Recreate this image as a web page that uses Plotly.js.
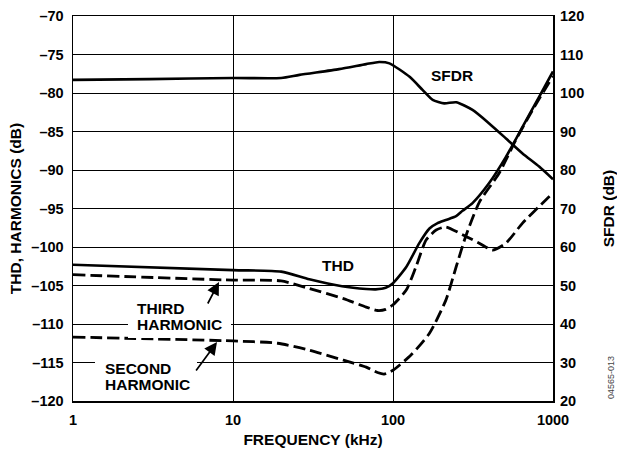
<!DOCTYPE html>
<html>
<head>
<meta charset="utf-8">
<script src="https://cdn.plot.ly/plotly-3.0.1.min.js"></script>
<style>html,body{margin:0;padding:0;background:#fff;}#chart{width:617px;height:453px;}</style>
</head>
<body>
<div id="chart"></div>
<script>
// Frequency axis (kHz)
const freqTicks = [1, 10, 100, 1000];
const freqTickText = ['1', '10', '100', '1000'];
const leftTicks = [-120, -115, -110, -105, -100, -95, -90, -85, -80, -75, -70];
const leftTickText = ['–120', '–115', '–110', '–105', '–100', '–95', '–90', '–85', '–80', '–75', '–70'];
const rightTicks = [20, 30, 40, 50, 60, 70, 80, 90, 100, 110, 120];
const rightTickText = ['20', '30', '40', '50', '60', '70', '80', '90', '100', '110', '120'];

// SFDR (dB, right axis)
const sfdrFreq = [1, 3, 10, 20, 26, 46, 68, 82, 95, 127, 153, 177, 209, 248, 314, 399, 508, 645, 819, 1000];
const sfdrVal  = [103.4, 103.6, 103.9, 103.9, 104.7, 106.2, 107.5, 108.05, 107.7, 104.2, 100.8, 98.2, 97.3, 97.6, 95.6, 92.1, 88.2, 84.3, 80.9, 77.6];

// THD (dB, left axis)
const thdFreq = [1, 10, 20, 30, 48, 68, 78, 90, 100, 121, 146, 169, 190, 214, 248, 272, 314, 399, 508, 645, 819, 1000];
const thdVal  = [-102.3, -103.0, -103.2, -104.2, -105.1, -105.45, -105.5, -105.3, -104.7, -102.6, -99.5, -97.6, -96.9, -96.5, -96.0, -95.3, -94.3, -91.7, -88.3, -84.4, -80.5, -77.2];

// Third harmonic (dB, left axis)
const h3Freq = [1, 10, 20, 30, 49, 68, 80, 90, 100, 121, 139, 161, 186, 214, 272, 346, 419, 508, 645, 901, 1000];
const h3Val  = [-103.6, -104.3, -104.4, -105.4, -106.7, -107.8, -108.25, -108.1, -107.5, -105.6, -102.6, -99.1, -97.8, -97.4, -98.4, -99.5, -100.4, -99.5, -96.9, -93.9, -93.0];

// Second harmonic (dB, left axis)
const h2Freq = [1, 10, 19, 30, 49, 68, 80, 88, 100, 130, 169, 214, 248, 286, 346, 461, 586, 745, 1000];
const h2Val  = [-111.7, -112.2, -112.5, -113.4, -114.7, -115.6, -116.3, -116.5, -116.0, -114.0, -111.2, -106.9, -102.6, -98.5, -94.2, -90.4, -86.1, -82.2, -77.8];

const FONT = 'Liberation Sans, Arial, Helvetica, sans-serif';
const bold = (s) => ({family: FONT, size: s, color: '#000', weight: 'bold'});
const DASH = '12px,5px';

const traces = [
  {x: sfdrFreq, y: sfdrVal, yaxis: 'y2', mode: 'lines', line: {color: '#000', width: 2.6, shape: 'spline', smoothing: 0.6}, hoverinfo: 'skip'},
  {x: thdFreq, y: thdVal, mode: 'lines', line: {color: '#000', width: 2.6, shape: 'spline', smoothing: 0.6}, hoverinfo: 'skip'},
  {x: h3Freq, y: h3Val, mode: 'lines', line: {color: '#000', width: 2.8, dash: DASH, shape: 'spline', smoothing: 0.6}, hoverinfo: 'skip'},
  {x: h2Freq, y: h2Val, mode: 'lines', line: {color: '#000', width: 2.8, dash: DASH, shape: 'spline', smoothing: 0.6}, hoverinfo: 'skip'}
];

const L = 73, R = 553, T = 16, B = 401;
const px = (x) => (x - L) / (R - L);
const py = (y) => (B - y) / (B - T);

function label(x, y, text) {
  return {xref: 'paper', yref: 'paper', x: px(x), y: py(y), text: text, showarrow: false,
          font: bold(15.5), xanchor: 'left', yanchor: 'middle'};
}
function whiteBox(x0, x1, y0, y1) {
  return {xref: 'paper', yref: 'paper', x: px((x0 + x1) / 2), y: py((y0 + y1) / 2), text: '',
          width: x1 - x0, height: y1 - y0, bgcolor: '#fff', borderpad: 0, borderwidth: 0,
          showarrow: false, xanchor: 'center', yanchor: 'middle'};
}

const layout = {
  width: 617, height: 453,
  margin: {l: L, r: 617 - R, t: T, b: 453 - B, pad: 0},
  paper_bgcolor: '#fff', plot_bgcolor: '#fff',
  showlegend: false,
  xaxis: {
    type: 'log', range: [0, 3], tickvals: freqTicks, ticktext: freqTickText,
    showgrid: true, gridcolor: '#000', gridwidth: 1,
    showline: true, mirror: true, linecolor: '#000', linewidth: 1.5,
    ticks: '', tickfont: bold(14.5), ticklabelstandoff: 5, zeroline: false,
    title: {text: 'FREQUENCY (kHz)', font: bold(15.5), standoff: 7}
  },
  yaxis: {
    range: [-120, -70], tickvals: leftTicks, ticktext: leftTickText,
    showgrid: true, gridcolor: '#000', gridwidth: 1,
    showline: true, mirror: true, linecolor: '#000', linewidth: 1.5,
    ticks: '', tickfont: bold(14.5), ticklabelstandoff: 5, zeroline: false,
    title: {text: 'THD, HARMONICS (dB)', font: bold(15.5), standoff: 6}
  },
  yaxis2: {
    overlaying: 'y', side: 'right', range: [20, 120], tickvals: rightTicks, ticktext: rightTickText,
    showgrid: false, showline: false, ticks: '', tickfont: bold(14.5), ticklabelstandoff: 6, zeroline: false,
    title: {text: 'SFDR (dB)', font: bold(15.5), standoff: 19}
  },
  annotations: [
    whiteBox(128, 231, 300, 338),
    whiteBox(95, 197, 356, 398),
    {xref: 'paper', yref: 'paper', x: px(451.5), y: py(75), text: 'SFDR', showarrow: false, font: bold(15.5), xanchor: 'center', yanchor: 'middle'},
    {xref: 'paper', yref: 'paper', x: px(337.5), y: py(265), text: 'THD', showarrow: false, font: bold(15.5), xanchor: 'center', yanchor: 'middle'},
    label(135, 308, 'THIRD'),
    label(135, 324, 'HARMONIC'),
    label(103, 368, 'SECOND'),
    label(103, 384, 'HARMONIC'),
    {xref: 'paper', yref: 'paper', x: px(219), y: py(282), ax: -12, ay: 23, text: '', showarrow: true, arrowhead: 2, arrowsize: 1.5, arrowwidth: 1.7, arrowcolor: '#000'},
    {xref: 'paper', yref: 'paper', x: px(217), y: py(342), ax: -22, ay: 30, text: '', showarrow: true, arrowhead: 2, arrowsize: 1.5, arrowwidth: 1.7, arrowcolor: '#000'},
    {xref: 'paper', yref: 'paper', x: px(611), y: py(378), text: '04565-013', textangle: -90, showarrow: false, font: {family: FONT, size: 9, color: '#444'}, xanchor: 'center', yanchor: 'middle'}
  ]
};

Plotly.newPlot('chart', traces, layout, {displayModeBar: false, staticPlot: true});
</script>
</body>
</html>
